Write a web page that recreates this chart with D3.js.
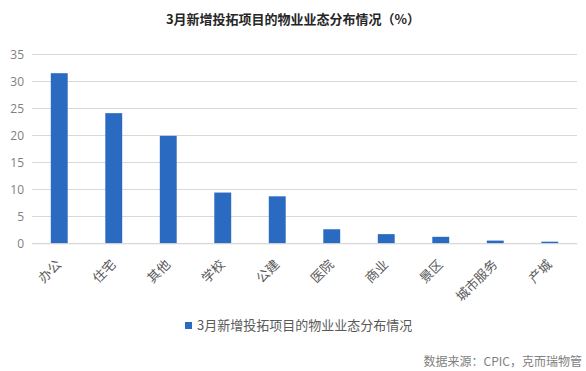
<!DOCTYPE html>
<html><head><meta charset="utf-8">
<script src="https://cdn.jsdelivr.net/npm/d3@7"></script>
<style>
html,body{margin:0;padding:0;background:#fff;}
text{font-family:"Noto Sans CJK SC","Noto Sans",sans-serif;}
</style></head>
<body><svg id="c" width="586" height="371"></svg>
<script>
const title = "3月新增投拓项目的物业业态分布情况（%）";
const seriesName = "3月新增投拓项目的物业业态分布情况";
const source = "数据来源：CPIC，克而瑞物管";
const categories = ["办公","住宅","其他","学校","公建","医院","商业","景区","城市服务","产城"];
const values = [31.5, 24.1, 19.9, 9.4, 8.7, 2.6, 1.7, 1.2, 0.5, 0.3];
const yTicks = [0,5,10,15,20,25,30,35];

const svg = d3.select("#c");
const m = {left:32, right:9, top:54.3, bottom:127.7};
const W = 586, H = 371;
const x = d3.scaleBand().domain(categories).range([m.left, W-m.right]).paddingInner(0.69).paddingOuter(0.345);
const y = d3.scaleLinear().domain([0,35]).range([H-m.bottom, m.top]);

// gridlines
svg.append("g").selectAll("line").data(yTicks).join("line")
  .attr("x1", m.left).attr("x2", W-m.right)
  .attr("y1", d=>Math.round(y(d))+0.5).attr("y2", d=>Math.round(y(d))+0.5)
  .attr("stroke", "#d9d9d9").attr("stroke-width", 1);

// y axis labels
const yAxis = d3.axisLeft(y).tickValues(yTicks).tickSize(0).tickPadding(0);
const ya = svg.append("g").attr("transform", `translate(${m.left-8},0)`).call(yAxis);
ya.select(".domain").remove();
ya.selectAll("text").attr("fill","#7f7f7f").style("font-size","12px").style("font-family","'Open Sans','Noto Sans',sans-serif");

// bars
svg.append("g").selectAll("rect").data(values).join("rect")
  .attr("x",(d,i)=>x(categories[i]))
  .attr("width", x.bandwidth())
  .attr("y", d=>y(d))
  .attr("height", d=>y(0)-y(d))
  .attr("fill","#2a6bc1");

// x axis
const xAxis = d3.axisBottom(x).tickSize(0).tickPadding(0);
const xa = svg.append("g").attr("transform",`translate(0,${y(0)})`).call(xAxis);
xa.select(".domain").attr("stroke","#d9d9d9");
xa.selectAll("text")
  .attr("text-anchor","end")
  .attr("dy",null).attr("y",0)
  .attr("transform","translate(3,22) rotate(-45)")
  .attr("fill","#595959").style("font-size","13px");

// title
svg.append("text").attr("x",W/2).attr("y",24).attr("text-anchor","middle")
  .attr("fill","#262626").style("font-size","13px").style("font-weight","bold").text(title);

// legend
svg.append("rect").attr("x",185).attr("y",322).attr("width",7).attr("height",7).attr("fill","#2a6bc1");
svg.append("text").attr("x",197).attr("y",330).attr("fill","#595959").style("font-size","13px").text(seriesName);

// source
svg.append("text").attr("x",582).attr("y",366).attr("text-anchor","end").attr("fill","#7f7f7f").style("font-size","12px").text(source);
</script></body></html>
